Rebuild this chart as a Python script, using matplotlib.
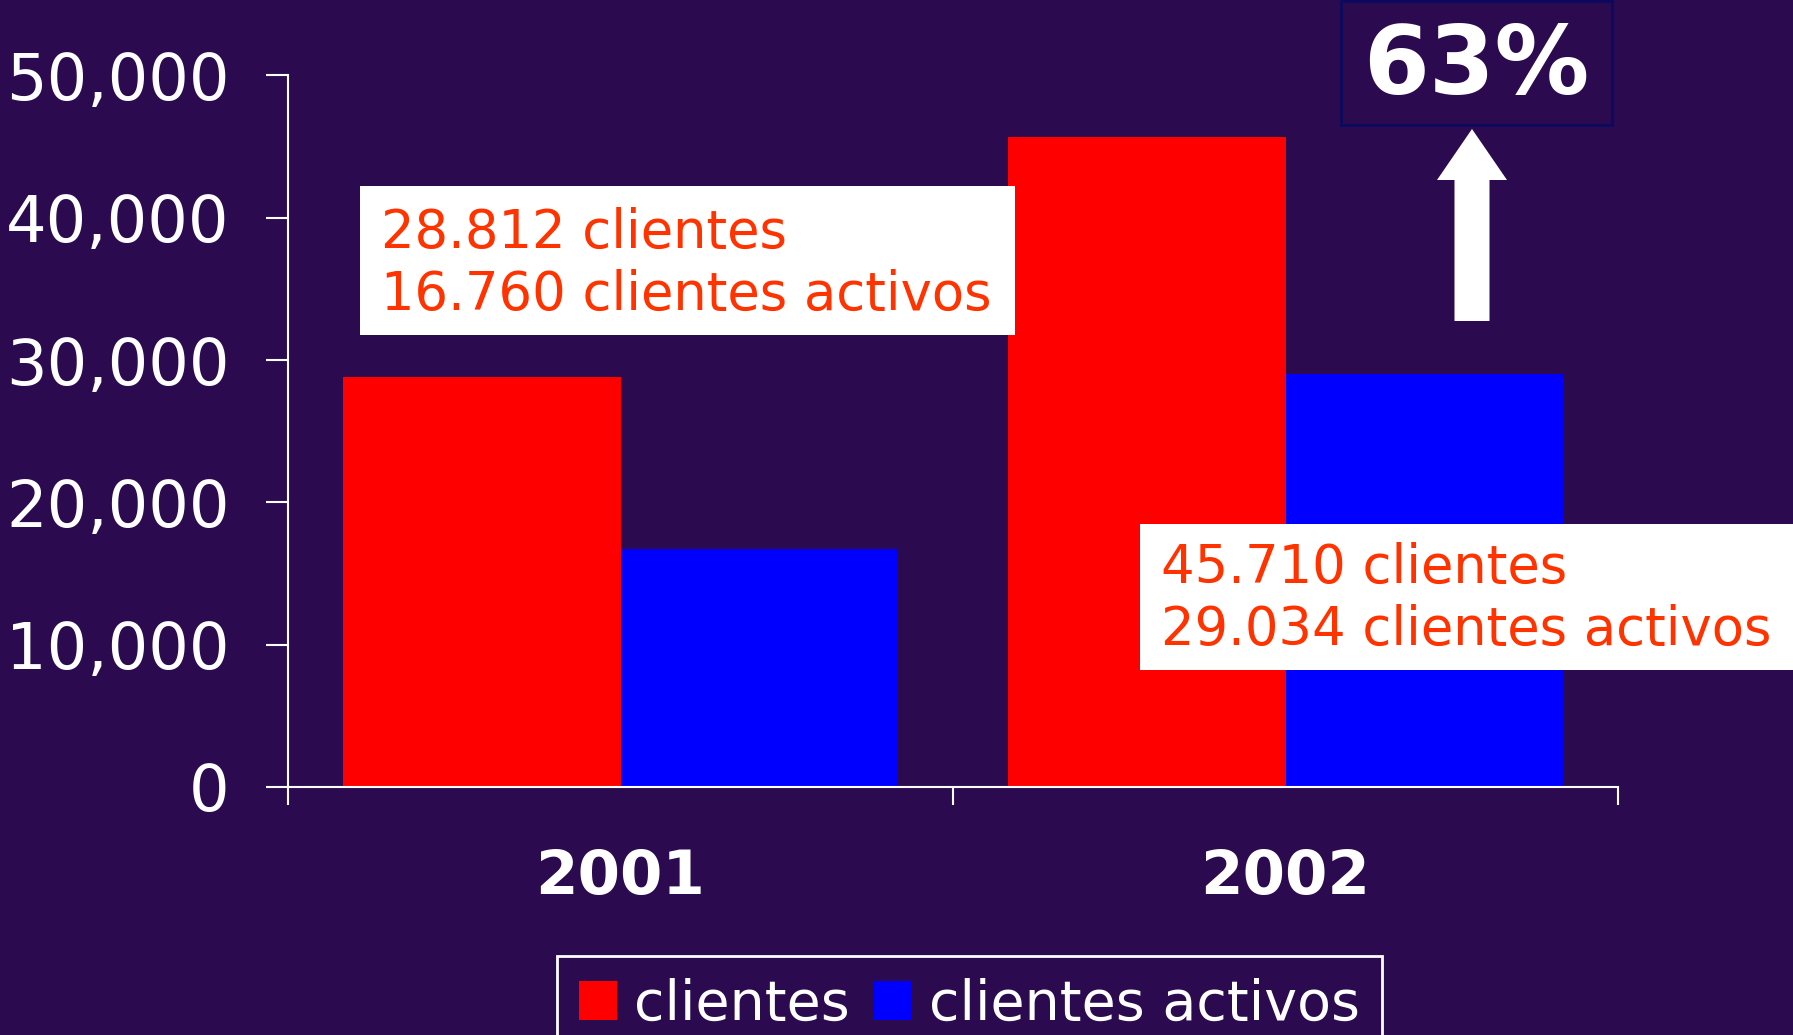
import matplotlib.pyplot as plt
from matplotlib.patches import Rectangle, FancyArrow
import numpy as np

years = ['2001', '2002']
clientes = [28812, 45710]
activos = [16760, 29034]
yticks = [0, 10000, 20000, 30000, 40000, 50000]
box_texts = ['28.812 clientes\n16.760 clientes activos',
             '45.710 clientes\n29.034 clientes activos']
growth = '63%'

BG = '#2C0A50'
W, H = 1793, 1035

fig = plt.figure(figsize=(W / 100, H / 100), dpi=100, facecolor=BG)
ax = fig.add_axes([288 / W, 1 - 787 / H, (1618 - 288) / W, (787 - 75.5) / H])
ax.set_facecolor(BG)

x = np.arange(len(years)) + 0.5
bw = 0.4167
ax.bar(x - bw / 2, clientes, bw, color='#FF0000', label='clientes', zorder=2)
ax.bar(x + bw / 2, activos, bw, color='#0000FF', label='clientes activos', zorder=2)

ax.set_xlim(0, 2)
ax.set_ylim(0, 50000)
ax.set_yticks(yticks)
ax.set_yticklabels([f'{v:,}' for v in yticks])
ax.set_xticks([0, 1, 2])
ax.set_xticklabels([])
ax.set_xticks(x, minor=True)
ax.set_xticklabels(years, minor=True, fontsize=44, fontweight='bold', color='white')
ax.tick_params(axis='x', which='minor', length=0, pad=44)
ax.tick_params(axis='x', which='major', length=13, width=1.5, color='white', direction='out')
ax.tick_params(axis='y', length=16, width=1.5, color='white', labelsize=46,
               labelcolor='white', pad=26)
for s in ['top', 'right']:
    ax.spines[s].set_visible(False)
for s in ['left', 'bottom']:
    ax.spines[s].set_color('white')
    ax.spines[s].set_linewidth(1.5)

# white annotation boxes (figure pixel coords)
def add_box(x0, y0, x1, y1, txt, tx, ty):
    fig.add_artist(Rectangle((x0 / W, 1 - y1 / H), (x1 - x0) / W, (y1 - y0) / H,
                             transform=fig.transFigure, facecolor='white',
                             edgecolor='none', zorder=5))
    fig.text(tx / W, 1 - ty / H, txt, color='#FF3300', fontsize=38,
             ha='left', va='center', linespacing=1.25, zorder=6)

add_box(360, 186, 1015, 335, box_texts[0], 381, 264)
add_box(1140, 524, 1793, 670, box_texts[1], 1161, 599)

# growth box and arrow
fig.add_artist(Rectangle((1341 / W, 1 - 125 / H), 271 / W, 124 / H,
                         transform=fig.transFigure, facecolor=BG,
                         edgecolor='#0A0A60', linewidth=2, zorder=5))
fig.text(1476 / W, 1 - 68 / H, growth, color='white', fontsize=68,
         fontweight='bold', ha='center', va='center', zorder=6)
fig.add_artist(FancyArrow(1472 / W, 1 - 321 / H, 0, (321 - 129) / H,
                          width=35 / W, head_width=70 / W, head_length=51 / H,
                          length_includes_head=True, transform=fig.transFigure,
                          facecolor='white', edgecolor='none', zorder=5))

leg = fig.legend(loc='upper center', bbox_to_anchor=(969.5 / W, 1 - 956 / H),
                 ncol=2, fontsize=40, frameon=True, fancybox=False,
                 facecolor=BG, edgecolor='white', framealpha=1,
                 handlelength=0.69, handleheight=0.7, handletextpad=0.3,
                 columnspacing=0.44, borderpad=0.4, borderaxespad=0)
leg.get_frame().set_linewidth(2)
for t in leg.get_texts():
    t.set_color('white')

fig.savefig('out.png', dpi=100, facecolor=BG)
